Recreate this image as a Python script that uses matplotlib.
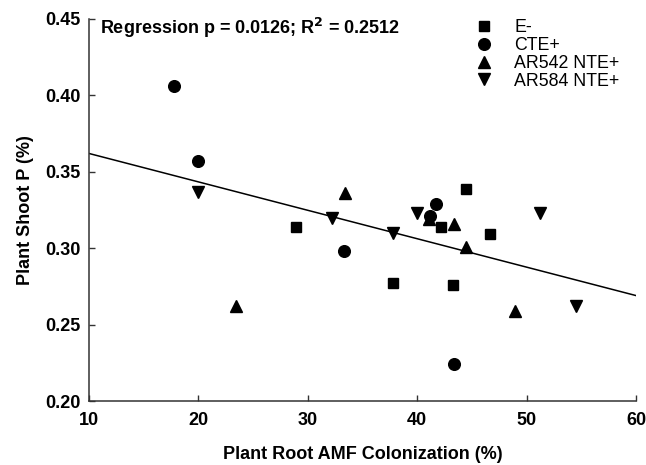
import numpy as np
import matplotlib
matplotlib.use("Agg")
import matplotlib.pyplot as plt

plt.rcParams["font.family"] = ["Liberation Sans", "DejaVu Sans"]

# values
e_minus_x = [28.9, 37.8, 43.3, 42.2, 44.5, 46.7]
e_minus_y = [0.314, 0.277, 0.276, 0.314, 0.339, 0.309]
cte_x = [17.8, 20.0, 33.3, 41.7, 41.2, 43.4]
cte_y = [0.406, 0.357, 0.298, 0.329, 0.321, 0.224]
ar542_x = [23.4, 33.4, 41.1, 43.4, 44.5, 48.9]
ar542_y = [0.262, 0.336, 0.319, 0.316, 0.301, 0.259]
ar584_x = [20.0, 32.2, 37.8, 40.0, 51.2, 54.5]
ar584_y = [0.337, 0.320, 0.310, 0.323, 0.323, 0.262]

# regression line end points
fit_x = [10, 60]
fit_y = [0.362, 0.269]

x_ticks = [10, 20, 30, 40, 50, 60]
y_ticks = [0.20, 0.25, 0.30, 0.35, 0.40, 0.45]

fig = plt.figure(figsize=(6.46, 4.65), dpi=100)
ax = fig.add_axes([89 / 646, 64 / 465, 547 / 646, 382 / 465])

ax.plot(fit_x, fit_y, color="black", lw=1.1, zorder=1)

ms = 8
ax.plot(e_minus_x, e_minus_y, "s", color="black", ms=ms * 0.95, ls="none", label="E-")
ax.plot(ar542_x, ar542_y, "^", color="black", ms=ms, ls="none", label="AR542 NTE+")
ax.plot(ar584_x, ar584_y, "v", color="black", ms=ms, ls="none", label="AR584 NTE+")
ax.plot(cte_x, cte_y, "o", color="black", ms=ms * 1.05, ls="none", label="CTE+")

ax.set_xlim(10, 60)
ax.set_ylim(0.20, 0.45)
ax.set_xticks(x_ticks)
ax.set_yticks(y_ticks)
ax.set_xticklabels([str(t) for t in x_ticks], fontweight="bold", fontsize=13)
ax.set_yticklabels(["%.2f" % t for t in y_ticks], fontweight="bold", fontsize=13)
ax.tick_params(axis="x", direction="in", length=4, width=1, pad=8, colors="#333333",
               labelcolor="black")
ax.tick_params(axis="y", direction="in", length=4, width=1, pad=6, colors="#333333",
               labelcolor="black")

for side in ["top", "right"]:
    ax.spines[side].set_visible(False)
for side in ["left", "bottom"]:
    ax.spines[side].set_linewidth(1.1)
    ax.spines[side].set_color("#333333")

ax.set_xlabel("Plant Root AMF Colonization (%)", fontweight="bold", fontsize=13)
ax.set_ylabel("Plant Shoot P (%)", fontweight="bold", fontsize=13)
ax.xaxis.set_label_coords(0.5, -0.14)
ax.xaxis.label.set_va("center")
ax.yaxis.set_label_coords(-0.116, 0.5)
ax.yaxis.label.set_va("center")

ax.text(0.02, 1.008, "Regression p = 0.0126; R$^\\mathbf{2}$ = 0.2512",
        transform=ax.transAxes, ha="left", va="top", fontweight="bold", fontsize=13)

handles, labels = ax.get_legend_handles_labels()
order = [0, 3, 1, 2]
ax.legend([handles[i] for i in order], [labels[i] for i in order],
          loc="upper left", bbox_to_anchor=(0.706, 1.0), frameon=False,
          fontsize=12.8, borderpad=0, borderaxespad=0, handlelength=1,
          handletextpad=1.2, labelspacing=0.05)

fig.savefig("out.png", dpi=100)
